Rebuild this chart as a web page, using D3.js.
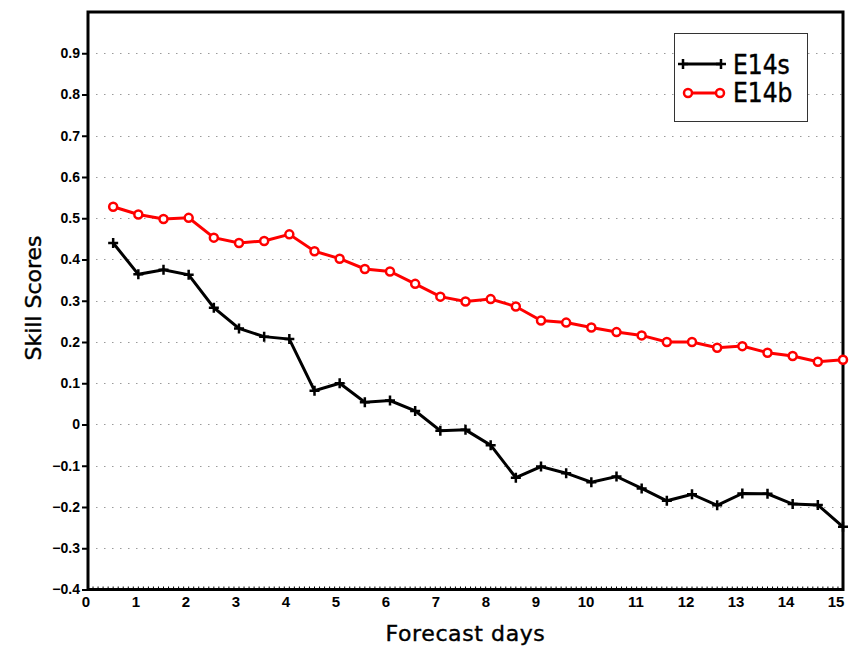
<!DOCTYPE html>
<html lang="en">
<head>
    <meta charset="UTF-8">
    <title>Skill Scores</title>
    <script src="https://d3js.org/d3.v7.min.js"></script>
    <style>
        body { margin: 0; background: #fff; }
        svg { display: block; }
    </style>
</head>
<body>
    <div id="chart"></div>
    <script>
        // forecast days (every half day)
        var days = [0.5, 1, 1.5, 2, 2.5, 3, 3.5, 4, 4.5, 5, 5.5, 6, 6.5, 7, 7.5,
                    8, 8.5, 9, 9.5, 10, 10.5, 11, 11.5, 12, 12.5, 13, 13.5, 14, 14.5, 15];

        var e14s = [0.440, 0.364, 0.375, 0.363, 0.283, 0.233, 0.213, 0.207, 0.082, 0.100,
                    0.054, 0.058, 0.033, -0.015, -0.013, -0.050, -0.129, -0.102, -0.118, -0.140,
                    -0.126, -0.155, -0.185, -0.169, -0.196, -0.167, -0.168, -0.193, -0.195, -0.248];

        var e14b = [0.528, 0.509, 0.498, 0.501, 0.453, 0.440, 0.445, 0.461, 0.420, 0.402,
                    0.377, 0.371, 0.341, 0.310, 0.298, 0.304, 0.286, 0.252, 0.247, 0.235,
                    0.224, 0.216, 0.200, 0.200, 0.186, 0.190, 0.174, 0.166, 0.152, 0.157];

        var xTicks = [0, 1, 2, 3, 4, 5, 6, 7, 8, 9, 10, 11, 12, 13, 14, 15];
        var yTicks = [-0.4, -0.3, -0.2, -0.1, 0, 0.1, 0.2, 0.3, 0.4, 0.5, 0.6, 0.7, 0.8, 0.9];
        var seriesNames = ["E14s", "E14b"];

        var w = 857;
        var h = 654;
        var padL = 88, padR = 843, padT = 12, padB = 589.5;

        var svg = d3.select("#chart")
            .append("svg")
            .attr("width", w)
            .attr("height", h);

        var xScale = d3.scaleLinear()
            .domain([0, 15])
            .range([padL, padR]);

        // tick labels in the original sit a little to the left of the ticks
        var xLabelScale = d3.scaleLinear()
            .domain([0, 15])
            .range([86, 836]);

        var yScale = d3.scaleLinear()
            .domain([-0.4, 1.0])
            .range([padB, padT]);

        var tickFont = "'Liberation Sans', Arial, sans-serif";
        var labelFont = "'DejaVu Sans Condensed', 'DejaVu Sans', sans-serif";

        // dotted grid lines
        svg.append("g")
            .selectAll("line")
            .data(yTicks.filter(d => d > -0.4))
            .enter()
            .append("line")
            .attr("x1", padL + 8)
            .attr("x2", padR)
            .attr("y1", d => Math.round(yScale(d)) + 0.5)
            .attr("y2", d => Math.round(yScale(d)) + 0.5)
            .attr("stroke", "#9a9a9a")
            .attr("stroke-width", 1)
            .attr("stroke-dasharray", "1.5,6.5");

        // y axis
        var yAxis = svg.append("g")
            .attr("transform", "translate(" + padL + ",0)")
            .call(d3.axisLeft(yScale)
                .tickValues(yTicks)
                .tickSize(6)
                .tickPadding(2)
                .tickFormat(d => String(Math.round(d * 10) / 10).replace("-", "\u2212")));
        yAxis.select(".domain").remove();
        yAxis.selectAll("line").attr("stroke", "#000").attr("stroke-width", 2);
        yAxis.selectAll("text")
            .attr("font-family", tickFont)
            .attr("font-weight", "bold")
            .attr("font-size", "14px")
            .attr("fill", "#000");

        // minor ticks along bottom
        svg.append("g")
            .selectAll("line")
            .data(d3.range(0, 151).map(i => i / 10))
            .enter()
            .append("line")
            .attr("x1", d => xScale(d))
            .attr("x2", d => xScale(d))
            .attr("y1", padB)
            .attr("y2", padB - 3)
            .attr("stroke", "#000")
            .attr("stroke-width", 1);

        // x labels
        svg.append("g")
            .selectAll("text")
            .data(xTicks)
            .enter()
            .append("text")
            .attr("x", d => xLabelScale(d))
            .attr("y", 607)
            .attr("text-anchor", "middle")
            .attr("font-family", tickFont)
            .attr("font-weight", "bold")
            .attr("font-size", "15px")
            .text(d => d);

        // frame
        svg.append("rect")
            .attr("x", padL)
            .attr("y", padT)
            .attr("width", padR - padL)
            .attr("height", padB - padT)
            .attr("fill", "none")
            .attr("stroke", "#000")
            .attr("stroke-width", 3);

        var line = d3.line()
            .x(d => xScale(d[0]))
            .y(d => yScale(d[1]));

        var blackData = days.map((d, i) => [d, e14s[i]]);
        var redData = days.map((d, i) => [d, e14b[i]]);

        function plus(g, x, y) {
            g.append("path")
                .attr("d", "M" + (x - 5) + "," + y + "H" + (x + 5) + "M" + x + "," + (y - 5) + "V" + (y + 5))
                .attr("stroke", "#000")
                .attr("stroke-width", 2.5)
                .attr("fill", "none");
        }

        // E14s
        svg.append("path")
            .datum(blackData)
            .attr("d", line)
            .attr("fill", "none")
            .attr("stroke", "#000")
            .attr("stroke-width", 3);
        var gs = svg.append("g");
        blackData.forEach(d => plus(gs, xScale(d[0]), yScale(d[1])));

        // E14b
        svg.append("path")
            .datum(redData)
            .attr("d", line)
            .attr("fill", "none")
            .attr("stroke", "#f00")
            .attr("stroke-width", 3);
        svg.append("g")
            .selectAll("circle")
            .data(redData)
            .enter()
            .append("circle")
            .attr("cx", d => xScale(d[0]))
            .attr("cy", d => yScale(d[1]))
            .attr("r", 4)
            .attr("fill", "#fff")
            .attr("stroke", "#f00")
            .attr("stroke-width", 2.5);

        // legend
        var lg = svg.append("g");
        lg.append("rect")
            .attr("x", 674.5)
            .attr("y", 33.5)
            .attr("width", 133)
            .attr("height", 88)
            .attr("fill", "#fff")
            .attr("stroke", "#333")
            .attr("stroke-width", 1);

        lg.append("line")
            .attr("x1", 683).attr("x2", 722)
            .attr("y1", 64).attr("y2", 64)
            .attr("stroke", "#000").attr("stroke-width", 3);
        plus(lg, 683, 64);
        plus(lg, 721, 64);

        lg.append("line")
            .attr("x1", 688).attr("x2", 720)
            .attr("y1", 93).attr("y2", 93)
            .attr("stroke", "#f00").attr("stroke-width", 3);
        [688, 720].forEach(x => {
            lg.append("circle")
                .attr("cx", x).attr("cy", 93).attr("r", 4)
                .attr("fill", "#fff").attr("stroke", "#f00").attr("stroke-width", 2.5);
        });

        lg.selectAll("text.name")
            .data(seriesNames)
            .enter()
            .append("text")
            .attr("class", "name")
            .attr("x", 733)
            .attr("y", (d, i) => 73.5 + i * 28.5)
            .attr("font-family", labelFont)
            .attr("font-size", "26px")
            .attr("stroke", "#000")
            .attr("stroke-width", 0.4)
            .text(d => d);

        // axis titles
        svg.append("text")
            .attr("x", (padL + padR) / 2)
            .attr("y", 641)
            .attr("text-anchor", "middle")
            .attr("font-family", "'DejaVu Sans', sans-serif")
            .attr("font-size", "22px")
            .attr("letter-spacing", "0.6px")
            .attr("stroke", "#000")
            .attr("stroke-width", 0.4)
            .text("Forecast days");

        svg.append("text")
            .attr("transform", "translate(41,298) rotate(-90)")
            .attr("text-anchor", "middle")
            .attr("font-family", "'DejaVu Sans', sans-serif")
            .attr("font-size", "22px")
            .attr("stroke", "#000")
            .attr("stroke-width", 0.4)
            .text("Skill Scores");
    </script>
</body>
</html>
